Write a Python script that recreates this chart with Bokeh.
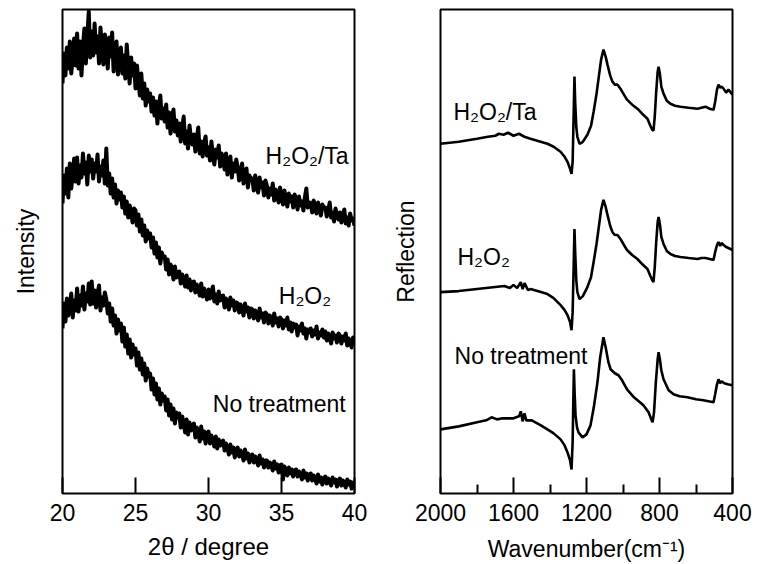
from bokeh.plotting import figure
from bokeh.layouts import row
from bokeh.models import Range1d, FixedTicker, Label
from bokeh.embed import file_html
from bokeh.resources import INLINE

# ---------------- XRD data (left panel) ----------------
two_theta = [round(20 + 0.1 * i, 1) for i in range(201)]

xrd_h2o2_ta = [
    410, 440, 418, 446, 425, 452, 420, 438, 455, 428,
    460, 425, 452, 418, 447, 465, 430, 458, 482, 436,
    462, 438, 470, 441, 457, 430, 466, 445, 429, 459,
    448, 425, 456, 437, 461, 422, 444, 452, 419, 440,
    446, 420, 438, 415, 449, 428, 410, 436, 418, 430,
    405, 428, 412, 398, 420, 395, 410, 388, 404, 392,
    400, 382, 396, 378, 392, 370, 388, 398, 375, 385,
    372, 389, 366, 381, 360, 376, 384, 362, 373, 358,
    370, 352, 366, 377, 350, 362, 345, 368, 355, 349,
    359, 342, 355, 366, 340, 352, 337, 350, 357, 338,
    346, 333, 352, 338, 329, 344, 336, 348, 327, 340,
    335, 324, 340, 319, 331, 337, 316, 330, 322, 334,
    326, 313, 322, 330, 310, 319, 325, 306, 318, 314,
    315, 303, 318, 308, 301, 316, 306, 311, 298, 313,
    308, 296, 305, 299, 310, 293, 304, 300, 291, 306,
    298, 289, 303, 294, 287, 300, 292, 297, 286, 299,
    294, 284, 297, 288, 292, 283, 296, 305, 286, 291,
    290, 281, 293, 286, 280, 291, 284, 278, 289, 285,
    286, 277, 283, 291, 276, 281, 272, 285, 279, 274,
    281, 271, 278, 284, 270, 276, 268, 280, 273, 275,
    268,
]

xrd_h2o2 = [
    290, 318, 300, 325, 296, 330, 305, 320, 335, 312,
    336, 310, 328, 316, 340, 320, 331, 309, 338, 322,
    334, 315, 330, 322, 339, 312, 327, 318, 333, 310,
    345, 308, 320, 300, 315, 296, 309, 290, 303, 294,
    301, 286, 297, 280, 292, 276, 288, 282, 271, 285,
    283, 268, 279, 262, 274, 258, 268, 252, 263, 255,
    260, 246, 256, 240, 251, 236, 246, 230, 241, 236,
    237, 224, 234, 219, 229, 225, 214, 227, 216, 221,
    222, 210, 219, 213, 207, 218, 206, 214, 203, 211,
    212, 201, 209, 204, 198, 210, 197, 205, 200, 194,
    204, 195, 201, 207, 192, 199, 190, 202, 193, 197,
    198, 186, 195, 190, 184, 196, 188, 193, 183, 191,
    190, 181, 189, 184, 178, 190, 182, 186, 176, 185,
    184, 175, 183, 178, 173, 185, 176, 180, 171, 181,
    179, 170, 178, 174, 168, 180, 171, 175, 167, 176,
    174, 165, 173, 168, 176, 164, 171, 162, 170, 166,
    169, 158, 167, 163, 170, 160, 165, 155, 164, 161,
    165, 157, 163, 159, 167, 155, 161, 158, 164, 156,
    162, 153, 160, 156, 150, 161, 155, 158, 151, 160,
    158, 150, 157, 153, 160, 148, 155, 151, 146, 156,
    150,
]

xrd_none = [
    165, 190, 172, 195, 178, 186, 200, 176, 193, 183,
    205, 182, 198, 188, 207, 184, 200, 192, 210, 189,
    212, 190, 203, 186, 199, 208, 183, 196, 188, 201,
    194, 180, 190, 172, 185, 168, 178, 160, 174, 163,
    170, 152, 166, 147, 159, 140, 154, 136, 149, 139,
    145, 128, 141, 124, 135, 119, 130, 113, 125, 117,
    120, 104, 115, 99, 110, 94, 105, 89, 100, 93,
    97, 83, 94, 78, 89, 74, 85, 70, 81, 76,
    80, 66, 77, 70, 61, 74, 59, 71, 63, 68,
    70, 56, 66, 60, 52, 67, 55, 62, 50, 60,
    62, 50, 58, 53, 47, 57, 45, 54, 48, 51,
    53, 43, 50, 45, 39, 49, 41, 46, 36, 44,
    46, 37, 43, 39, 33, 44, 35, 40, 31, 38,
    39, 31, 37, 33, 28, 38, 30, 34, 26, 33,
    33, 26, 31, 28, 23, 32, 25, 29, 21, 28,
    29, 14, 27, 23, 18, 26, 20, 24, 17, 23,
    24, 17, 22, 19, 14, 23, 16, 20, 13, 19,
    20, 13, 18, 15, 10, 19, 12, 16, 9, 15,
    17, 10, 15, 12, 8, 16, 11, 14, 7, 13,
    15, 8, 13, 10, 6, 14, 9, 12, 5, 11,
    9,
]

xrd_ticks = [20, 25, 30, 35, 40]

# ---------------- IR data (right panel) ----------------
ir_top_wn = [2000, 1900, 1800, 1740, 1700, 1680, 1655, 1630, 1600, 1570, 1540, 1507, 1414, 1380,
             1342, 1320, 1304, 1290, 1282, 1276, 1270, 1266, 1262, 1256, 1250, 1238, 1220,
             1195, 1175, 1161, 1145, 1134, 1120, 1107, 1095, 1085, 1070, 1058, 1045, 1030,
             1014, 995, 978, 950, 921, 895, 866, 850, 840, 833, 826, 818, 810, 805, 798,
             790, 778, 760, 740, 715, 685, 640, 592, 570, 548, 525, 504, 495, 485, 477,
             468, 460, 449, 435, 422, 400]
ir_top = [349, 351, 354, 356, 357, 359, 358, 360, 357, 359, 356, 354, 349, 346,
          341, 336, 331, 324, 319, 331, 381, 416, 391, 366, 356, 349, 351,
          358, 367, 381, 399, 414, 433, 443, 436, 428, 417, 411, 408, 408,
          404, 398, 393, 388, 384, 379, 374, 367, 363, 362, 376, 401, 421, 426, 419,
          406, 399, 392, 389, 387, 386, 385, 384, 385, 386, 384, 383, 391, 403, 408,
          405, 406, 404, 400, 403, 398]

ir_mid_wn = [2000, 1900, 1800, 1700, 1650, 1620, 1600, 1580, 1560, 1550, 1540, 1520, 1507,
             1450, 1414, 1380, 1342, 1320, 1304, 1290, 1282, 1276, 1270, 1266, 1262, 1256,
             1250, 1238, 1220, 1195, 1175, 1161, 1145, 1134, 1120, 1107, 1095, 1085, 1070,
             1058, 1045, 1030, 1014, 995, 978, 950, 921, 895, 866, 850, 840, 833, 826, 818,
             810, 805, 798, 790, 778, 760, 740, 715, 685, 640, 592, 570, 548, 525, 504,
             495, 485, 477, 468, 460, 449, 435, 422, 400]
ir_mid = [201, 202, 204, 206, 207, 205, 208, 205, 211, 204, 210, 203, 204,
          201, 199, 195, 188, 183, 178, 171, 163, 181, 229, 264, 241, 213,
          201, 194, 197, 206, 216, 231, 249, 264, 283, 293, 286, 278, 267,
          261, 258, 258, 254, 248, 243, 238, 234, 229, 224, 217, 213, 211, 226, 251,
          271, 276, 269, 256, 249, 242, 239, 237, 236, 235, 234, 235, 235, 234, 233,
          241, 248, 251, 247, 250, 248, 246, 245, 243]

ir_none_wn = [2000, 1900, 1800, 1750, 1720, 1690, 1660, 1600, 1570, 1560, 1550, 1540, 1530,
              1500, 1450, 1414, 1380, 1342, 1320, 1304, 1290, 1282, 1276, 1272, 1269, 1265,
              1260, 1252, 1244, 1222, 1200, 1178, 1160, 1140, 1125, 1107, 1095, 1080, 1068,
              1045, 1025, 1005, 978, 940, 888, 860, 845, 838, 830, 820, 810, 805, 798, 790,
              778, 750, 723, 690, 647, 600, 560, 504, 495, 485, 477, 468, 460, 445, 427, 400]
ir_none = [64, 67, 71, 73, 76, 74, 75, 75, 77, 82, 72, 80, 73,
           73, 68, 64, 60, 54, 48, 41, 33, 24, 51, 95, 124, 100,
           78, 66, 61, 56, 59, 68, 86, 111, 136, 156, 146, 131, 124,
           120, 118, 113, 104, 96, 88, 81, 74, 71, 81, 111, 134, 141, 134, 123,
           114, 103, 99, 97, 96, 94, 93, 91, 99, 109, 114, 110, 112, 110, 109, 108]

ir_ticks = [2000, 1600, 1200, 800, 400]
ir_minor = [1800, 1400, 1000, 600]

FONT = "Liberation Sans"


def style(p, xlabel, xlabel_size, xlabel_standoff, ylabel, ylabel_standoff):
    p.outline_line_color = "black"
    p.outline_line_width = 2
    p.xgrid.grid_line_color = None
    p.ygrid.grid_line_color = None
    p.background_fill_color = "white"
    p.border_fill_color = "white"
    for ax in p.xaxis:
        ax.axis_line_color = None
        ax.major_tick_in = 16
        ax.major_tick_out = 0
        ax.major_tick_line_width = 2
        ax.major_tick_line_color = "black"
        ax.minor_tick_in = 9
        ax.minor_tick_out = 0
        ax.minor_tick_line_width = 2
        ax.minor_tick_line_color = "black"
        ax.major_label_text_font = FONT
        ax.major_label_text_font_size = "23px"
        ax.major_label_text_color = "black"
        ax.major_label_standoff = 10
        ax.axis_label = xlabel
        ax.axis_label_text_font = FONT
        ax.axis_label_text_font_size = xlabel_size
        ax.axis_label_text_font_style = "normal"
        ax.axis_label_text_color = "black"
        ax.axis_label_standoff = xlabel_standoff
    for ax in p.yaxis:
        ax.ticker = FixedTicker(ticks=[])
        ax.axis_line_color = None
        ax.major_tick_line_color = None
        ax.minor_tick_line_color = None
        ax.axis_label = ylabel
        ax.axis_label_text_font = FONT
        ax.axis_label_text_font_size = "23px"
        ax.axis_label_text_font_style = "normal"
        ax.axis_label_text_color = "black"
        ax.axis_label_standoff = ylabel_standoff


# ---------------- left figure ----------------
p1 = figure(width=386, height=564, min_border_left=62, min_border_right=32,
            min_border_top=9, min_border_bottom=71,
            x_range=Range1d(20, 40), y_range=Range1d(0, 484),
            output_backend="svg", toolbar_location=None)
p1.xaxis.ticker = FixedTicker(ticks=xrd_ticks)
style(p1, "2θ / degree", "24px", 9, "Intensity", 24)
p1.xaxis.minor_tick_line_color = None
for series in (xrd_h2o2_ta, xrd_h2o2, xrd_none):
    p1.line(two_theta, series, line_color="black", line_width=4.0, line_join="round")

for txt, xv, yv in (("H₂O₂/Ta", 39.6, 338), ("H₂O₂", 38.4, 198), ("No treatment", 39.4, 90)):
    p1.add_layout(Label(x=xv, y=yv, text=txt, text_font=FONT, text_font_size="23px",
                        text_align="right", text_baseline="alphabetic", text_color="black"))

# ---------------- right figure ----------------
p2 = figure(width=373, height=564, min_border_left=54, min_border_right=27,
            min_border_top=9, min_border_bottom=71,
            x_range=Range1d(2000, 400), y_range=Range1d(0, 483),
            output_backend="svg", toolbar_location=None)
p2.xaxis.ticker = FixedTicker(ticks=ir_ticks, minor_ticks=ir_minor)
style(p2, "Wavenumber(cm⁻¹)", "23px", 12, "Reflection", 22)
for wn, series in ((ir_top_wn, ir_top), (ir_mid_wn, ir_mid), (ir_none_wn, ir_none)):
    p2.line(wn, series, line_color="black", line_width=2.6)

for txt, xv, yv in (("H₂O₂/Ta", 1929, 381), ("H₂O₂", 1907, 236), ("No treatment", 1923, 137)):
    p2.add_layout(Label(x=xv, y=yv, text=txt, text_font=FONT, text_font_size="23px",
                        text_align="left", text_baseline="alphabetic", text_color="black"))

layout = row(p1, p2)
open("out.html", "w").write(file_html(layout, INLINE))
